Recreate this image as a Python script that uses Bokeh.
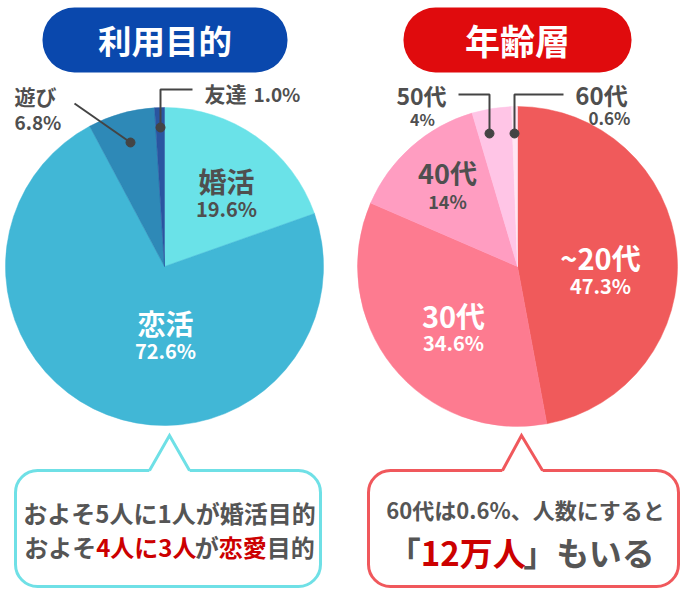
import math
from bokeh.plotting import figure
from bokeh.models import Range1d, BoxAnnotation, ColumnDataSource
from bokeh.core.properties import value
from bokeh.embed import file_html
from bokeh.resources import INLINE

FONT = "Noto Sans CJK JP"

# --- data ---
purpose_labels = ["婚活", "恋活", "遊び", "友達"]
purpose_values = [19.6, 72.6, 6.8, 1.0]
purpose_colors = ["#6ae2e8", "#41b7d6", "#2e89b7", "#2a55a0"]

age_labels = ["~20代", "30代", "40代", "50代", "60代"]
age_values = [47.3, 34.6, 14.0, 4.0, 0.6]
age_colors = ["#f05a5b", "#fd7b90", "#ff9dc1", "#ffc5e6", "#ffe6f3"]

W, H = 690, 591
p = figure(width=W, height=H, x_range=Range1d(0, W), y_range=Range1d(H, 0),
           output_backend="svg", toolbar_location=None, x_axis_type=None, y_axis_type=None,
           min_border=0, outline_line_color=None, background_fill_color="white")
p.grid.visible = False


def pie(cx, cy, r, vals, colors):
    total = sum(vals)
    starts, ends = [], []
    cum = 0.0
    for v in vals:
        starts.append(math.pi / 2 - 2 * math.pi * cum / total)
        cum += v
        ends.append(math.pi / 2 - 2 * math.pi * cum / total)
    src = ColumnDataSource(dict(x=[cx] * len(vals), y=[cy] * len(vals), s=starts, e=ends, c=colors))
    p.wedge(x="x", y="y", radius=r, start_angle="s", end_angle="e", direction="clock",
            fill_color="c", line_color="c", line_width=0.5, source=src)


pie(164, 266, 159, purpose_values, purpose_colors)
pie(517, 266, 160, age_values, age_colors)


def txt(x, y, t, size, color, align="center", bold=True):
    p.text(x=[x], y=[y], text=[t], text_font=value(FONT), text_font_size=f"{size}px",
           text_color=color, text_align=align, text_baseline="middle",
           text_font_style="bold" if bold else "normal")


# --- title pills ---
for (l, r_, col, t, sz) in [(42, 287, "#0a48ad", "利用目的", 33.5), (403, 631, "#e00b0d", "年齢層", 35)]:
    p.add_layout(BoxAnnotation(left=l, right=r_, top=7, bottom=72, fill_color=col, fill_alpha=1,
                               line_color=None, border_radius=32, level="underlay"))
    txt((l + r_) / 2, 39, t, sz, "white")

DARK = "#4f4f4f"
pct = lambda v: f"{v:g}%" if v == int(v) else f"{v}%"

# --- left pie labels ---
txt(226, 180, purpose_labels[0], 28, DARK)
txt(226, 208, f"{purpose_values[0]}%", 20, DARK)
txt(165, 322, purpose_labels[1], 28, "white")
txt(165, 350, f"{purpose_values[1]}%", 20, "white")
txt(14, 95, purpose_labels[2], 21, DARK, align="left")
txt(14, 121, f"{purpose_values[2]}%", 19, DARK, align="left")
txt(204, 92, purpose_labels[3], 21, DARK, align="left")
txt(253, 93, f"{purpose_values[3]}%", 19, DARK, align="left")

# leaders left
p.line(x=[74, 130], y=[103, 142], line_color="#444444", line_width=2)
p.line(x=[192, 160, 160], y=[89, 89, 127], line_color="#444444", line_width=2)
p.scatter(x=[130, 160], y=[142, 127], size=9, color="#444444")

# --- right pie labels ---
txt(600, 256, age_labels[0], 29, "white")
txt(600, 285, f"{age_values[0]}%", 20, "white")
txt(453, 314, age_labels[1], 29, "white")
txt(453, 342, f"{age_values[1]}%", 20, "white")
txt(447, 172, age_labels[2], 27, DARK)
txt(447, 200, pct(age_values[2]), 18, DARK)
txt(421, 94, age_labels[3], 23, DARK)
txt(422, 118, pct(age_values[3]), 16, DARK)
txt(601, 94, age_labels[4], 24, DARK)
txt(609, 117, f"{age_values[4]}%", 17, DARK)

p.line(x=[458, 489, 489], y=[94, 94, 133], line_color="#444444", line_width=2)
p.line(x=[563, 514, 514], y=[94, 94, 133], line_color="#444444", line_width=2)
p.scatter(x=[489, 514], y=[133, 133], size=9, color="#444444")

# --- speech bubbles ---
def bubble(l, r_, top, bottom, apex_x, base_l, base_r, col):
    p.add_layout(BoxAnnotation(left=l, right=r_, top=top, bottom=bottom, fill_color="white",
                               fill_alpha=1, line_color=col, line_alpha=1, line_width=3,
                               border_radius=22, level="underlay"))
    p.patch(x=[base_l - 1, apex_x, base_r + 1], y=[top + 2.5, 435, top + 2.5], fill_color="white",
            line_color=None)
    p.line(x=[base_l, apex_x, base_r], y=[top, 435, top], line_color=col, line_width=3,
           line_join="miter")


bubble(15, 320, 470, 586, 169, 149, 189, "#6fe0e6")
bubble(368, 678, 470, 586, 521, 502, 542, "#f0585c")

GRAY = "#555555"
RED = "#cc0000"
F2 = 24
txt(169, 512, "およそ5人に1人が婚活目的", F2, GRAY)
segs = [("およそ", GRAY, 3.0), ("4人に3人", RED, 4.11), ("が", GRAY, 1.0), ("恋愛", RED, 2.0), ("目的", GRAY, 2.0)]
total = sum(s[2] for s in segs) * F2
x0 = 169 - total / 2
for t, c, em in segs:
    txt(x0, 546, t, F2, c, align="left")
    x0 += em * F2

txt(525, 508, "60代は0.6%、人数にすると", 22, GRAY)
F3 = 33
segs2 = [("「", GRAY, 1.0), ("12万人", RED, 3.11), ("」", GRAY, 1.0), ("もいる", GRAY, 3.0)]
total2 = sum(s[2] for s in segs2) * F3
x0 = 521 - total2 / 2
for t, c, em in segs2:
    txt(x0, 551, t, F3, c, align="left")
    x0 += em * F3

open("out.html", "w").write(file_html(p, INLINE))
